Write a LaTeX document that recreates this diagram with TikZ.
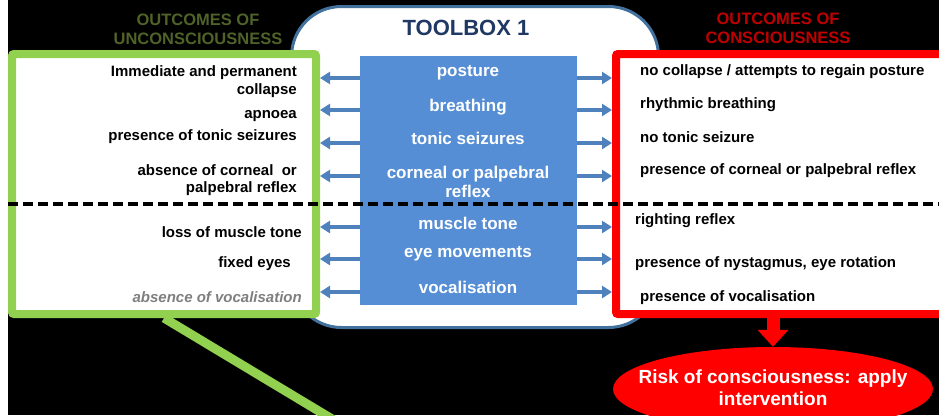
\documentclass[tikz,border=0pt]{standalone}
\usepackage{fontspec}
\setmainfont{Liberation Sans}
\usetikzlibrary{arrows.meta,shapes.geometric}
\definecolor{toolnavy}{HTML}{1F3864}
\definecolor{toolrim}{HTML}{41719C}
\definecolor{toolfill}{HTML}{558ED5}
\definecolor{toolarrow}{HTML}{4F81BD}
\definecolor{unconolive}{HTML}{4F6228}
\definecolor{unconlime}{HTML}{92D050}
\definecolor{conred}{HTML}{FF0000}
\definecolor{condark}{HTML}{C00000}
\definecolor{vocgrey}{HTML}{7F7F7F}

\begin{document}
\begin{tikzpicture}[x=1pt, y=-1pt,
    outbox/.style={draw, line width=8pt, fill=white, inner sep=0pt,
      outer sep=4pt, rounded corners=2pt},
    headline/.style={font=\fontsize{16.5}{19.5}\selectfont\bfseries,
      align=center, inner sep=0pt},
    outcome/.style={font=\fontsize{15}{17.5}\selectfont\bfseries, inner sep=0pt},
    toolrow/.style={font=\fontsize{17}{19.5}\selectfont\bfseries, text=white,
      align=center, inner sep=0pt},
    probe/.style={-{Triangle[width=12pt,length=10pt]}, line width=3.5pt, toolarrow}]

%% ── canvas ───────────────────────────────────────────────────────────────────
\useasboundingbox (0,0) rectangle (939,415);
\clip (0,0) rectangle (939,415);
\fill[white] (0,0) rectangle (939,415);
\fill[black] (8,0) rectangle (939,415);

%% ── toolbox frame + tools column ─────────────────────────────────────────────
\node[draw=toolrim, line width=3pt, fill=white, rounded corners=50pt,
      minimum width=367pt, minimum height=321pt] (toolbox) at (475,167) {};
\node[font=\fontsize{22}{24}\selectfont\bfseries, text=toolnavy, inner sep=0pt]
  (title) at (466,28) {TOOLBOX 1};

% the two outcome panels sit over the toolbox corners
\node[outbox, draw=unconlime, minimum width=304pt, minimum height=260pt]
  (uncon) at (164,184) {};
\node[outbox, draw=conred, minimum width=332pt, minimum height=260pt]
  (con) at (782,184) {};

\node[fill=toolfill, minimum width=217pt, minimum height=249pt, outer sep=0pt]
  (tools) at (468.5,180.5) {};

%% ── headings ─────────────────────────────────────────────────────────────────
\node[headline, text=unconolive] (hu) at (198,29.5) {OUTCOMES OF\\UNCONSCIOUSNESS};
\node[headline, text=condark] (hc) at (778,28.5) {OUTCOMES OF\\CONSCIOUSNESS};

%% ── tools ────────────────────────────────────────────────────────────────────
\node[toolrow] (t1) at (468,73)  {posture};
\node[toolrow] (t2) at (468,107) {breathing};
\node[toolrow] (t3) at (468,138) {tonic seizures};
\node[toolrow] (t4) at (468,182) {corneal or palpebral\\reflex};
\node[toolrow] (t5) at (468,223) {muscle tone};
\node[toolrow] (t6) at (468,254) {eye movements};
\node[toolrow] (t7) at (468,287) {vocalisation};

%% ── left: unconscious outcomes ───────────────────────────────────────────────
\node[outcome, anchor=east, align=right] (u1) at (297,81.5)
  {Immediate and permanent\\collapse};
\node[outcome, anchor=east] (u2) at (297,116) {apnoea};
\node[outcome, anchor=east] (u3) at (297,137) {presence of tonic seizures};
\node[outcome, anchor=east, align=right] (u4) at (297,180)
  {absence of corneal~ or\\palpebral reflex};
\node[outcome, anchor=east] (u5) at (302,232) {loss of muscle tone};
\node[outcome, anchor=east] (u6) at (291,264) {fixed eyes};
\node[outcome, anchor=east, text=vocgrey, font=\fontsize{15}{17.5}\selectfont\bfseries\itshape]
  (u7) at (302,297) {absence of vocalisation};

%% ── right: conscious outcomes ────────────────────────────────────────────────
\node[outcome, anchor=west] (c1) at (640,72)  {no collapse / attempts to regain posture};
\node[outcome, anchor=west] (c2) at (640,105) {rhythmic breathing};
\node[outcome, anchor=west] (c3) at (640,137) {no tonic seizure};
\node[outcome, anchor=west] (c4) at (640,171) {presence of corneal or palpebral reflex};
\node[outcome, anchor=west] (c5) at (635,221) {righting reflex};
\node[outcome, anchor=west] (c6) at (635,264) {presence of nystagmus, eye rotation};
\node[outcome, anchor=west] (c7) at (640,298) {presence of vocalisation};

%% ── arrows out of the tools column ───────────────────────────────────────────
\coordinate (row1) at (0,78);
\coordinate (row2) at (0,110);
\coordinate (row3) at (0,143);
\coordinate (row4) at (0,176);
\coordinate (row5) at (0,227);
\coordinate (row6) at (0,259);
\coordinate (row7) at (0,292);
\foreach \r in {1,...,7} {
  \draw[probe] (tools.west |- row\r) -- (uncon.east |- row\r);
  \draw[probe] (tools.east |- row\r) -- (con.west |- row\r);
}

%% ── divider between the two groups of tests ──────────────────────────────────
\coordinate (divL) at (8,204);
\coordinate (divR) at (939,204);
\draw[black, line width=3.5pt, dash pattern=on 10pt off 5pt] (divL) -- (divR);

%% ── consequences ─────────────────────────────────────────────────────────────
% ellipse kept empty so the text does not widen it
\node[ellipse, fill=conred, minimum width=320pt, minimum height=84pt, inner sep=0pt]
  (risk) at (773,389) {};
\node[font=\fontsize{19}{22}\selectfont\bfseries, text=white, align=center, inner sep=0pt]
  (risktext) at (773,388) {Risk of consciousness: apply\\intervention};
\draw[conred, line width=13pt, -{Triangle[width=30pt,length=17pt]}]
  (con.south -| risk.north) -- (risk.north);

% leader running off the bottom edge
\coordinate (tail) at (342,425);
\draw[unconlime, line width=9pt] (uncon.south) -- (tail);

\end{tikzpicture}
\end{document}
